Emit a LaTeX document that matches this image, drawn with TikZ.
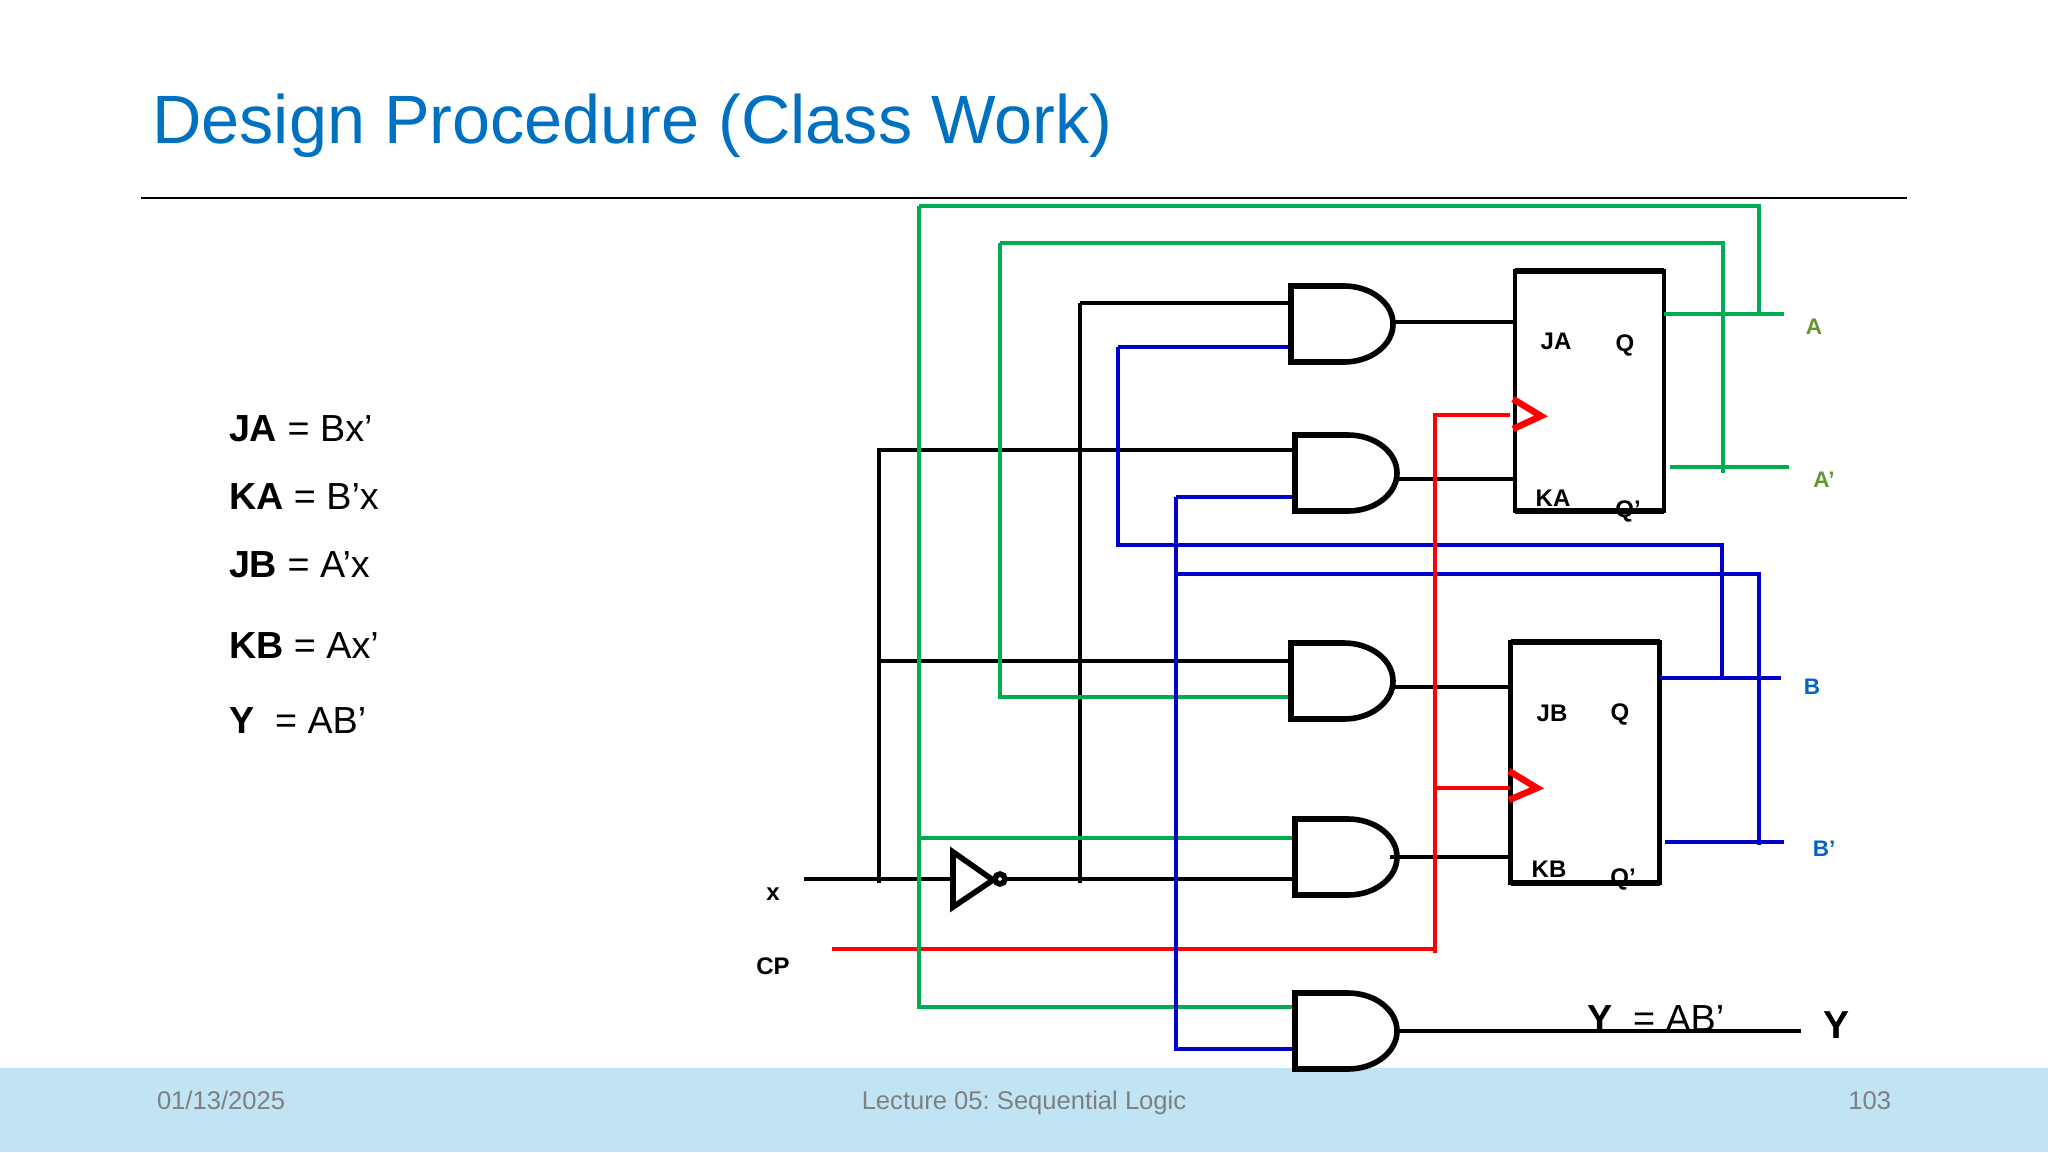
\documentclass[tikz,border=0pt]{standalone}
\usepackage{fontspec}
\setmainfont{Liberation Sans}
\definecolor{wgreen}{HTML}{00AC50}
\definecolor{wblue}{HTML}{0000C8}
\definecolor{wred}{HTML}{FF0000}
\definecolor{titleblue}{HTML}{0070C0}
\definecolor{band}{HTML}{C1E4F5}
\definecolor{foot}{HTML}{7F7F7F}
\definecolor{olive}{HTML}{669432}
\definecolor{labblue}{HTML}{0563C1}
\tikzset{
  x=1pt,y=-1pt,
  wire/.style={line width=4.6pt,line cap=butt,line join=miter},
  blk/.style={wire,black},
  grn/.style={wire,wgreen},
  blu/.style={wire,wblue},
  rd/.style={wire,wred},
  andg/.style={rectangle,minimum width=102pt,minimum height=76pt,inner sep=0pt,outer sep=0pt},
  ff/.style={rectangle,draw=black,line width=4.6pt,minimum width=149pt,minimum height=240pt,inner sep=0pt,outer sep=0pt},
  txt/.style={inner sep=0pt,outer sep=0pt,text=black},
  fflab/.style={txt,font=\fontsize{24}{24}\selectfont\bfseries},
  outlab/.style={txt,font=\fontsize{22.5}{22.5}\selectfont\bfseries},
  eq/.style={txt,anchor=base west,font=\fontsize{37.7}{38}\selectfont},
  footer/.style={inner sep=0pt,outer sep=0pt,text=foot,font=\fontsize{25.6}{26}\selectfont},
}
\newcommand{\gatebody}[1]{\draw[black,line width=5.6pt,line join=miter]
  (#1.north west) -- +(53,0) arc[start angle=90,end angle=-90,x radius=49pt,y radius=38pt] -- (#1.south west) -- cycle;}
\begin{document}
\frenchspacing
\begin{tikzpicture}
\useasboundingbox (0,0) rectangle (2048,1152);
\fill[white] (0,0) rectangle (2048,1152);
\fill[band] (0,1068) rectangle (2048,1152);
\node[inner sep=0pt,anchor=base west,text=titleblue,font=\fontsize{68.4}{69}\selectfont] (title) at (152,143) {Design Procedure (Class Work)};
\coordinate (ruleL) at (141,198);
\coordinate (ruleR) at (1907,198);
\draw[black,line width=2pt] (ruleL) -- (ruleR);
% footer
\node[footer,anchor=base west] (fdate) at (157,1109) {01/13/2025};
\node[footer,anchor=base] (flect) at (1024,1109) {Lecture 05: Sequential Logic};
\node[footer,anchor=base east] (fnum) at (1891,1109) {103};
% equations
\node[eq] (e1) at (229,441) {\textbf{JA} = Bx’};
\node[eq] (e2) at (229,509) {\textbf{KA} = B’x};
\node[eq] (e3) at (229,577) {\textbf{JB} = A’x};
\node[eq] (e4) at (229,658) {\textbf{KB} = Ax’};
\node[eq] (e5) at (229,733) {\textbf{Y}\ \ = AB’};
% labels
\node[fflab] (lja) at (1556,341) {JA};
\node[fflab] (lqa) at (1625,345) {Q};
\node[fflab] (lka) at (1553,498) {KA};
\node[fflab] (lqna) at (1628,511) {Q’};
\node[fflab] (ljb) at (1552,713) {JB};
\node[fflab] (lqb) at (1620,714) {Q};
\node[fflab] (lkb) at (1549,869) {KB};
\node[fflab] (lqnb) at (1623,879) {Q’};
\node[outlab,text=olive] (la) at (1814,327) {A};
\node[outlab,text=olive] (lan) at (1824,480) {A’};
\node[outlab,text=labblue] (lb) at (1812,687) {B};
\node[outlab,text=labblue] (lbn) at (1824,849) {B’};
\node[fflab] (lx) at (773,894) {x};
\node[fflab] (lcp) at (773,966) {CP};
\node[txt,anchor=base west,font=\fontsize{37.7}{38}\selectfont] (yeq) at (1587,1031) {\textbf{Y}\ \ = AB’};
\node[txt,font=\fontsize{39}{39}\selectfont\bfseries] (ylab) at (1836,1025) {Y};
% gates and flip-flops
\node[andg] (g1) at (1342,324) {};
\node[andg] (g2) at (1346,473) {};
\node[andg] (g3) at (1342,681) {};
\node[andg] (g4) at (1346,857) {};
\node[andg] (g5) at (1346,1031) {};
\node[ff] (ffa) at (1589.5,391) {};
\node[ff,minimum height=241pt] (ffb) at (1585,762.5) {};
% named free ends
\coordinate (xin) at (804,879);
\coordinate (cpin) at (832,949);
\coordinate (busX) at (879,883);
\coordinate (busG1) at (919,206);
\coordinate (busG2) at (1000,243);
\coordinate (busN) at (1080,303);
\coordinate (busB1) at (1118,347);
\coordinate (busB2) at (1176,497);
\coordinate (busR) at (1435,415);
\coordinate (aEnd) at (1784,314);
\coordinate (anEnd) at (1789,467);
\coordinate (anStart) at (1670,467);
\coordinate (bEnd) at (1781,678);
\coordinate (bnEnd) at (1784,842);
\coordinate (bnStart) at (1665,842);
\coordinate (yEnd) at (1801,1031);
\coordinate (invA) at (953,852);
\coordinate (invB) at (953,907);
\coordinate (invT) at (993,880);
\coordinate (ckaT) at (1513,399);
\coordinate (ckaM) at (1541,416);
\coordinate (ckaB) at (1513,429);
\coordinate (ckbT) at (1509,771);
\coordinate (ckbM) at (1537,788);
\coordinate (ckbB) at (1509,800);
% black wires
\draw[blk] (xin) -- (invA |- xin);
\draw[blk] (invT |- xin) -- (g4.west |- xin);
\draw[blk] (busN) -- (g1.west |- busN);
\draw[blk] (busN) -- (busN |- busX);
\draw[blk] (busX) -- (busX |- 0,450) -- (g2.west |- 0,450);
\draw[blk] (busX |- 0,661) -- (g3.west |- 0,661);
\draw[blk] (g1.east |- 0,322) -- (ffa.west |- 0,322);
\draw[blk] (g2.east |- 0,479) -- (ffa.west |- 0,479);
\draw[blk] (g3.east |- 0,687) -- (ffb.west |- 0,687);
\draw[blk] (1390,857) -- (ffb.west |- 0,857);
\draw[blk] (g5.east |- yEnd) -- (yEnd);
% CP, green, blue
\draw[rd] (cpin) -- (busR |- cpin);
\draw[grn] (busG1) -- (1759,206) -- (1759,314);
\draw[grn] (ffa.east |- aEnd) -- (aEnd);
\draw[grn] (anStart) -- (anEnd);
\draw[grn] (busG2) -- (1723,243) -- (1723,473);
\draw[grn] (busG1 |- 0,838) -- (g4.west |- 0,838);
\draw[grn] (busG1) -- (busG1 |- 0,1007) -- (g5.west |- 0,1007);
\draw[grn] (busG2) -- (busG2 |- 0,697) -- (g3.west |- 0,697);
\draw[blu] (busB1) -- (g1.west |- busB1);
\draw[blu] (busB1) -- (busB1 |- 0,545) -- (1722,545) -- (1722,678);
\draw[blu] (busB2) -- (g2.west |- busB2);
\draw[blu] (busB2) -- (busB2 |- 0,1049) -- (g5.west |- 0,1049);
\draw[blu] (busB2 |- 0,574) -- (1759,574) -- (1759,845);
\draw[blu] (ffb.east |- bEnd) -- (bEnd);
\draw[blu] (bnStart) -- (bnEnd);
% clock
\draw[rd] (busR |- 0,953) -- (busR) -- (1510,415);
\draw[rd] (busR |- ckbM) -- (1510,788);
% bodies
\gatebody{g1}
\gatebody{g2}
\gatebody{g3}
\gatebody{g4}
\gatebody{g5}
\draw[black,line width=6.5pt] (ffa.north west) -- (ffa.north east);
\draw[black,line width=5.5pt] (ffa.south west) -- (ffa.south east);
\draw[black,line width=6.5pt] (ffb.north west) -- (ffb.north east);
\draw[black,line width=5.5pt] (ffb.south west) -- (ffb.south east);
\draw[wred,line width=6.5pt] (ckaT) -- (ckaM) -- (ckaB);
\draw[wred,line width=6.5pt] (ckbT) -- (ckbM) -- (ckbB);
% inverter
\draw[black,line width=5.6pt] (invA) -- (invT) -- (invB) -- cycle;
\node[circle,draw=black,line width=5.6pt,fill=white,minimum size=10pt,inner sep=0pt] (bub) at (1000,879) {};
\end{tikzpicture}
\end{document}
